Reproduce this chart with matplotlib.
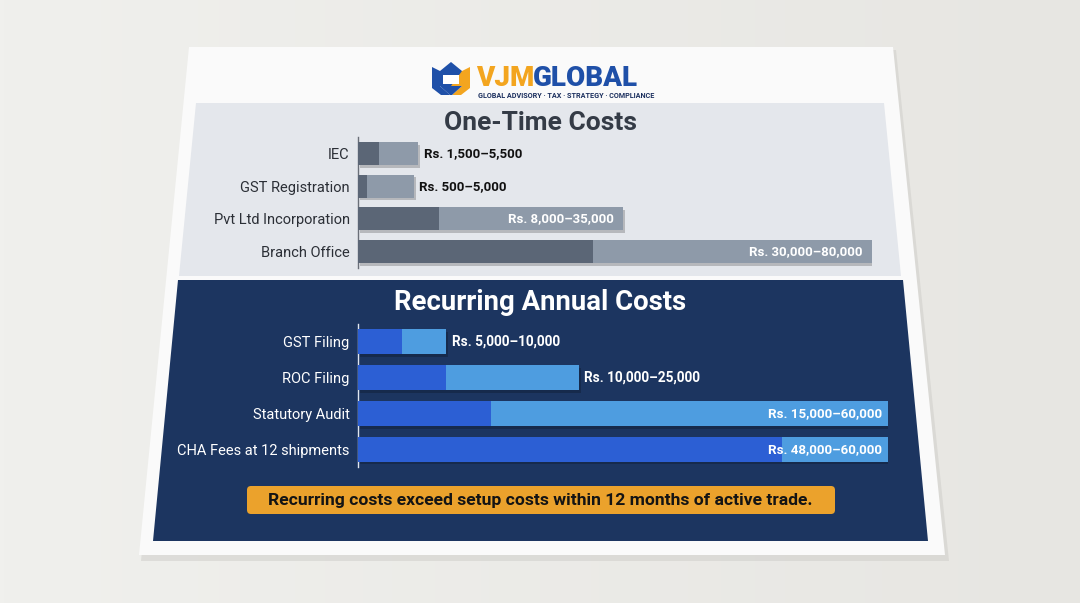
import matplotlib
matplotlib.use("Agg")
import matplotlib.pyplot as plt
import numpy as np
from matplotlib.patches import Polygon, FancyBboxPatch, Rectangle
from matplotlib.colors import LinearSegmentedColormap
import matplotlib.patheffects as pe

# ---------------- data ----------------
onetime_items = ["IEC", "GST Registration", "Pvt Ltd Incorporation", "Branch Office"]
onetime_min = [1500, 500, 8000, 30000]
onetime_max = [5500, 5000, 35000, 80000]
onetime_labels = ["Rs. 1,500–5,500", "Rs. 500–5,000", "Rs. 8,000–35,000", "Rs. 30,000–80,000"]

recurring_items = ["GST Filing", "ROC Filing", "Statutory Audit", "CHA Fees at 12 shipments"]
recurring_min = [5000, 10000, 15000, 48000]
recurring_max = [10000, 25000, 60000, 60000]
recurring_labels = ["Rs. 5,000–10,000", "Rs. 10,000–25,000", "Rs. 15,000–60,000", "Rs. 48,000–60,000"]

title_top = "One-Time Costs"
title_bottom = "Recurring Annual Costs"
callout_text = "Recurring costs exceed setup costs within 12 months of active trade."

# ---------------- figure ----------------
W, H = 1080, 603
plt.rcParams["font.family"] = ["Roboto", "DejaVu Sans"]
fig = plt.figure(figsize=(W / 100, H / 100), dpi=100)
fig.patch.set_facecolor("#e9e8e4")


def rect(x0, y0, x1, y1):
    return [x0 / W, 1 - y1 / H, (x1 - x0) / W, (y1 - y0) / H]


bg = fig.add_axes([0, 0, 1, 1])
bg.set_xlim(0, W)
bg.set_ylim(H, 0)
bg.axis("off")

# background gradient
grad = np.linspace(0, 1, 256)[None, :]
cmap_bg = LinearSegmentedColormap.from_list("bg", ["#f0f0ed", "#e7e6e2"])
bg.imshow(grad, extent=(0, W, H, 0), cmap=cmap_bg, aspect="auto", zorder=0)

# paper shadow and paper
bg.add_patch(Polygon([(191, 50), (896, 50), (949, 561), (141, 561)],
                     closed=True, color="#c9c8c4", alpha=0.45, lw=0, zorder=1))
bg.add_patch(Polygon([(189, 47), (893, 47), (945, 555), (139, 555)],
                     closed=True, color="#fafafa", lw=0, zorder=2))
# top panel (light)
bg.add_patch(Polygon([(196, 103), (884, 103), (901, 276), (179, 276)],
                     closed=True, color="#e4e7ec", lw=0, zorder=3))
# bottom panel (navy)
bg.add_patch(Polygon([(178, 280), (903, 280), (928, 541), (153, 541)],
                     closed=True, color="#1c3560", lw=0, zorder=3))

# logo icon
blue_logo = "#1f50a8"
orange_logo = "#f3a51f"
bg.add_patch(Polygon([(440, 71), (451, 62), (462, 71)], closed=True, color=blue_logo, lw=0, zorder=4))
bg.add_patch(Polygon([(432, 67), (440, 71), (440, 86), (450, 95), (441, 95), (432, 88)],
                     closed=True, color=blue_logo, lw=0, zorder=4))
bg.add_patch(Polygon([(470, 67), (462, 71), (462, 86), (452, 95), (461, 95), (470, 88)],
                     closed=True, color=orange_logo, lw=0, zorder=4))
bg.add_patch(Polygon([(440, 71), (462, 71), (462, 86), (452, 95), (450, 95), (440, 86)],
                     closed=True, color=blue_logo, lw=0, zorder=4))
bg.add_patch(Polygon([(451, 86), (462, 86), (462, 71)], closed=True, color=orange_logo, lw=0, zorder=4))
bg.add_patch(Rectangle((443, 75), 16, 9, color="white", lw=0, zorder=5))
bg.text(476, 85.5, "VJM", color=orange_logo, fontsize=20, fontweight="heavy",
        va="baseline", ha="left", zorder=5)
bg.text(533, 85.5, "GLOBAL", color=blue_logo, fontsize=20, fontweight="heavy",
        va="baseline", ha="left", zorder=5)
bg.text(478, 91.5, "GLOBAL ADVISORY · TAX · STRATEGY · COMPLIANCE", color="#1b2f5e",
        fontsize=5.2, fontweight="bold", va="top", ha="left", zorder=5)

# titles
bg.text(540, 123, title_top, color="#343b46", fontsize=19, fontweight="bold",
        ha="center", va="center", zorder=5)
bg.text(540, 302, title_bottom, color="white", fontsize=19.8, fontweight="bold",
        ha="center", va="center", zorder=5)

# callout
bg.add_patch(FancyBboxPatch((247, 486), 588, 28, boxstyle="round,pad=0,rounding_size=4",
                            color="#eba22c", lw=0, zorder=4))
bg.text(540, 500.5, callout_text, color="#141414", fontsize=12.6, fontweight="bold",
        ha="center", va="center", zorder=5)

shadow = [pe.SimplePatchShadow(offset=(1.5, -2), shadow_rgbFace="#000000", alpha=0.2), pe.Normal()]


def draw_panel(ax, items, vmin, vmax, c_dark, c_light, lab_color, spine_color, xmax):
    y = np.arange(len(items))
    ax.barh(y, vmax, height=0.7, color=c_light, path_effects=shadow, zorder=2)
    ax.barh(y, vmin, height=0.7, color=c_dark, zorder=3)
    ax.set_xlim(0, xmax)
    ax.set_ylim(len(items) - 0.5, -0.5)
    ax.set_yticks(y)
    ax.set_yticklabels(items)
    ax.tick_params(axis="y", length=0, pad=6, labelsize=10.5, labelcolor=lab_color)
    ax.set_xticks([])
    for s in ["top", "right", "bottom"]:
        ax.spines[s].set_visible(False)
    ax.spines["left"].set_color(spine_color)
    ax.spines["left"].set_linewidth(1.0)
    ax.patch.set_alpha(0)
    return y


# ---------- top panel: one-time costs ----------
ax1 = fig.add_axes(rect(358, 137, 872, 268))
ax1.set_xscale("function", functions=(lambda v: np.sign(v) * np.abs(v) ** 0.8,
                                      lambda v: np.sign(v) * np.abs(v) ** 1.25))
y1 = draw_panel(ax1, onetime_items, onetime_min, onetime_max,
                "#5b6676", "#8e9aa9", "#2b2f36", "#6a6f78", 80000)
for i in y1:
    if onetime_max[i] >= 20000:
        ax1.annotate(onetime_labels[i], xy=(onetime_max[i], i), xytext=(-7, 0),
                     textcoords="offset points", ha="right", va="center",
                     color="white", fontsize=9.5, fontweight="bold", zorder=5)
    else:
        ax1.annotate(onetime_labels[i], xy=(onetime_max[i], i), xytext=(4, 0),
                     textcoords="offset points", ha="left", va="center",
                     color="#111111", fontsize=9.5, fontweight="bold", zorder=5)

# ---------- bottom panel: recurring costs ----------
ax2 = fig.add_axes(rect(358, 324, 888, 467))
y2 = draw_panel(ax2, recurring_items, recurring_min, recurring_max,
                "#2c5fd4", "#4e9de0", "#ffffff", "#dfe6f0", 60000)
for i in y2:
    if recurring_max[i] >= 40000:
        ax2.annotate(recurring_labels[i], xy=(recurring_max[i], i), xytext=(-4, 0),
                     textcoords="offset points", ha="right", va="center",
                     color="white", fontsize=9.6, fontweight="bold", zorder=5)
    else:
        ax2.annotate(recurring_labels[i], xy=(recurring_max[i], i), xytext=(4, 0),
                     textcoords="offset points", ha="left", va="center",
                     color="white", fontsize=9.8, fontweight="bold", zorder=5)

fig.savefig("out.png", dpi=100, facecolor=fig.get_facecolor())
